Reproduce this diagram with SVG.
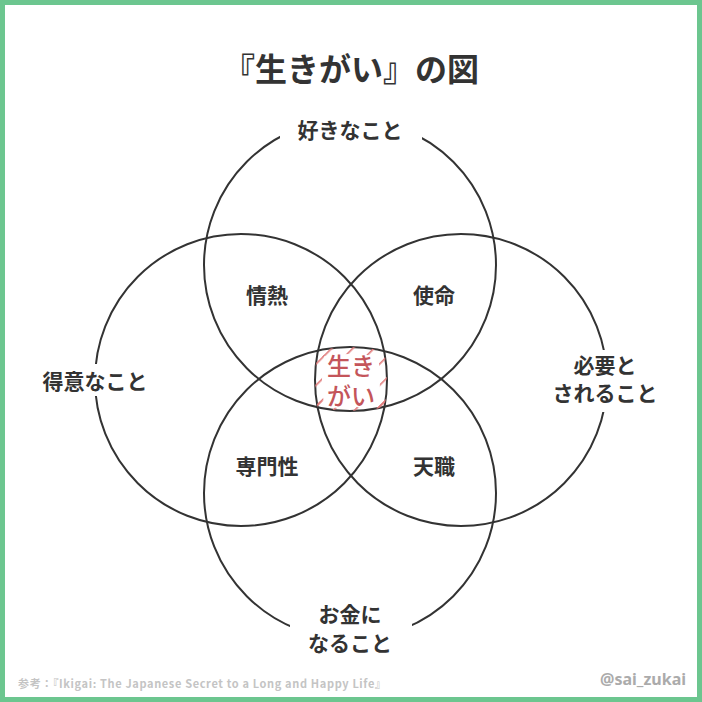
<svg xmlns="http://www.w3.org/2000/svg" width="702" height="702" viewBox="0 0 702 702">
<style>
.c{fill:none;stroke:#333;stroke-width:2}
.t{font-family:"Noto Sans CJK JP","Noto Sans",sans-serif;font-weight:700;fill:#333;text-anchor:middle}
.lb{font-size:21px}
.ik{font-size:24px;fill:#c4555a;font-weight:500;stroke:#fff;stroke-width:3;paint-order:stroke}
</style>
<defs>
<clipPath id="cT"><circle cx="350" cy="265" r="146"/></clipPath>
<clipPath id="cL"><circle cx="241" cy="380" r="146"/></clipPath>
<clipPath id="cR"><circle cx="461" cy="380" r="146"/></clipPath>
<clipPath id="cB"><circle cx="350" cy="493" r="146"/></clipPath>
<pattern id="hatch" patternUnits="userSpaceOnUse" width="15" height="15" patternTransform="rotate(45)">
<rect x="0" y="0" width="1.6" height="15" fill="#e07a7a"/>
</pattern>
</defs>
<rect x="0" y="0" width="702" height="702" fill="#fff"/>
<rect x="2.5" y="2.5" width="697" height="697" fill="none" stroke="#6cc68f" stroke-width="5"/>
<text class="t" x="351" y="81" font-size="32">『生きがい』の図</text>
<g id="connectors">
<circle class="c" cx="350" cy="265" r="146"/>
<circle class="c" cx="241" cy="380" r="146"/>
<circle class="c" cx="461" cy="380" r="146"/>
<circle class="c" cx="350" cy="493" r="146"/>
</g>
<g id="hatching" clip-path="url(#cT)"><g clip-path="url(#cL)"><g clip-path="url(#cR)"><g clip-path="url(#cB)">
<g fill="none" stroke="url(#hatch)" stroke-width="14">
<circle cx="350" cy="265" r="146"/>
<circle cx="241" cy="380" r="146"/>
<circle cx="461" cy="380" r="146"/>
<circle cx="350" cy="493" r="146"/>
</g></g></g></g></g>
<g id="n-suki"><rect x="280" y="115" width="142" height="30" fill="#fff"/><text class="t lb" x="350" y="138">好きなこと</text></g>
<g id="n-tokui"><rect x="34" y="364" width="122" height="32" fill="#fff"/><text class="t lb" x="95" y="389">得意なこと</text></g>
<g id="n-hitsuyo"><rect x="543" y="350" width="124" height="62" fill="#fff"/><text class="t lb" x="605" y="373">必要と</text><text class="t lb" x="605" y="401">されること</text></g>
<g id="n-okane"><rect x="290" y="598" width="122" height="62" fill="#fff"/><text class="t lb" x="350" y="622">お金に</text><text class="t lb" x="350" y="651">なること</text></g>
<g id="n-jonetsu"><text class="t lb" x="267" y="303">情熱</text></g>
<g id="n-shimei"><text class="t lb" x="434" y="303">使命</text></g>
<g id="n-senmon"><text class="t lb" x="267" y="474">専門性</text></g>
<g id="n-tenshoku"><text class="t lb" x="434" y="474">天職</text></g>
<g id="n-ikigai"><text class="t ik" x="351" y="375">生き</text><text class="t ik" x="351" y="405">がい</text></g>
<text x="18" y="688" font-family="'Noto Sans CJK JP','Noto Sans',sans-serif" font-size="11" font-weight="700" fill="#c4c4c4" textLength="368">参考：『Ikigai: The Japanese Secret to a Long and Happy Life』</text>
<text x="686" y="685" text-anchor="end" font-family="'Noto Sans','DejaVu Sans',sans-serif" font-size="16" font-weight="700" fill="#ababab">@sai_zukai</text>
</svg>
